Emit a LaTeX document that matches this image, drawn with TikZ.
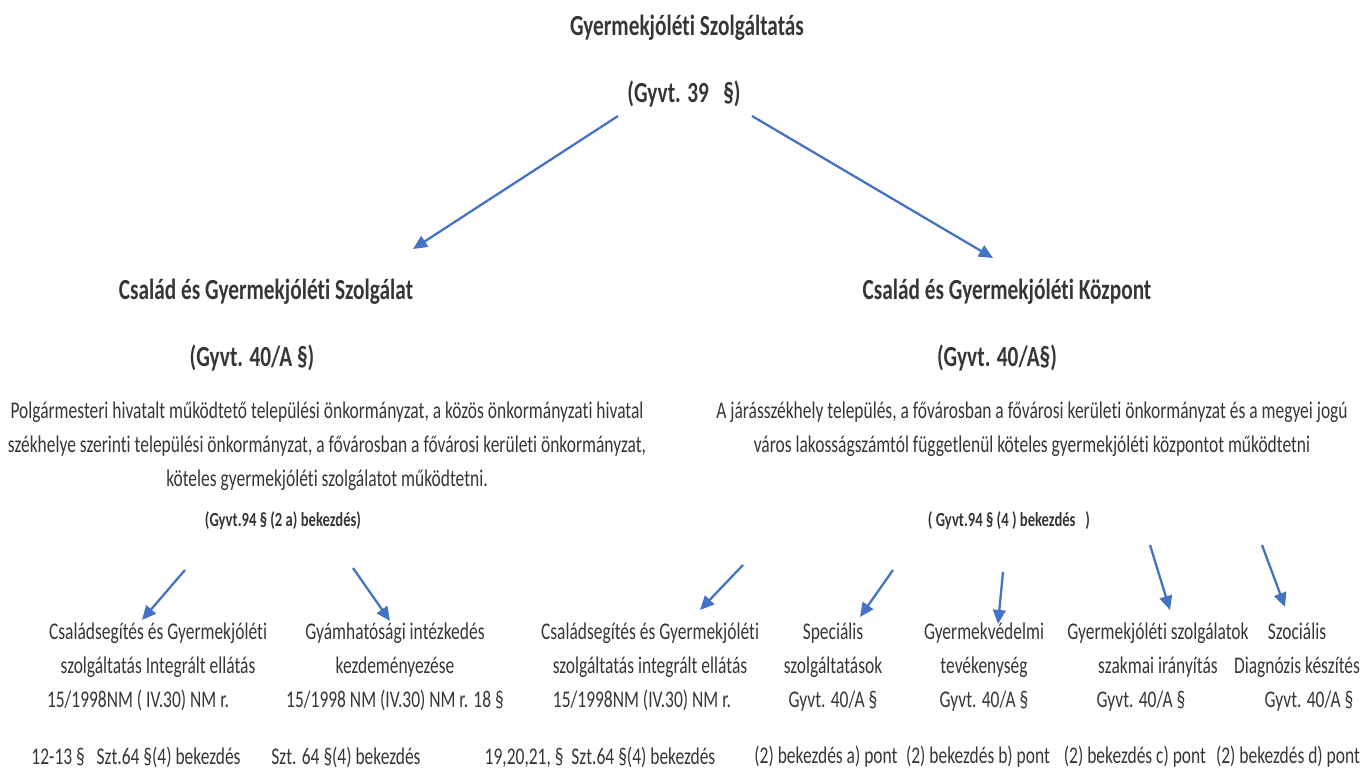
\documentclass[tikz,border=0pt]{standalone}
\usepackage{fontspec}
\setmainfont[FakeStretch=0.73,Ligatures=NoCommon]{Carlito}
\usetikzlibrary{arrows.meta}
\definecolor{txtgray}{HTML}{363636}
\definecolor{arrblue}{HTML}{4472C4}
\newcommand{\pad}[1]{\hbox to #1{}}

\begin{document}
\begin{tikzpicture}[x=0.01cm,y=-0.01cm,
	title/.style={text=txtgray,inner sep=0pt,font=\fontsize{8.3}{10}\selectfont\bfseries},
	body/.style={text=txtgray,inner sep=0pt,align=center,font=\fontsize{6.8}{9.68}\selectfont},
	jog/.style={text=txtgray,inner sep=0pt,font=\fontsize{5.7}{7}\selectfont\bfseries},
	arr/.style={draw=arrblue,line width=0.65pt,-{Triangle[length=4pt,width=3.6pt]}}]
	\useasboundingbox (0,0) rectangle (1365,779);
	% top
	\node[title] (root) at (687,28) {Gyermekjóléti Szolgáltatás};
	\node[title] (rootref) at (684,94) {(Gyvt. 39\ \ \ §)};
	% second level
	\node[title] (szolg) at (266,292) {Család és Gyermekjóléti Szolgálat};
	\node[title] (szolgref) at (252,358) {(Gyvt. 40/A §)};
	\node[title] (kozp) at (1007,292) {Család és Gyermekjóléti Központ};
	\node[title] (kozpref) at (997,358) {(Gyvt. 40/A§)};
	\node[body] (szolgtxt) at (327,446) {Polgármesteri hivatalt működtető települési önkormányzat, a közös önkormányzati hivatal\\székhelye szerinti települési önkormányzat, a fővárosban a fővárosi kerületi önkormányzat,\\köteles gyermekjóléti szolgálatot működtetni.};
	\node[body] (kozptxt) at (1032,429) {A járásszékhely település, a fővárosban a fővárosi kerületi önkormányzat és a megyei jogú\\város lakosságszámtól függetlenül köteles gyermekjóléti központot működtetni};
	\node[jog] (szolgjog) at (283,521) {(Gyvt.94 § (2 a) bekezdés)};
	\node[jog] (kozpjog) at (1009,521) {(\ Gyvt.94 § (4 ) bekezdés\ \ \ )};
	% third level
	\node[body] (b1) at (158,667) {Családsegítés és Gyermekjóléti\\szolgáltatás Integrált ellátás\\15/1998NM ( IV.30) NM r.\pad{0.4cm}};
	\node[body] (b2) at (395,667) {Gyámhatósági intézkedés\\kezdeményezése\\15/1998 NM (IV.30) NM r. 18 §};
	\node[body] (b3) at (650,667) {Családsegítés és Gyermekjóléti\\szolgáltatás integrált ellátás\\15/1998NM (IV.30) NM r.\pad{0.16cm}};
	\node[body] (b4) at (833,667) {Speciális\\szolgáltatások\\Gyvt. 40/A §};
	\node[body] (b5) at (984,667) {Gyermekvédelmi\\tevékenység\\Gyvt. 40/A §};
	\node[body] (b6) at (1158,667) {Gyermekjóléti szolgálatok\\szakmai irányítás\\Gyvt. 40/A §\pad{0.34cm}};
	\node[body] (b7) at (1297,667) {Szociális\\Diagnózis készítés\\\pad{0.24cm}Gyvt. 40/A §};
	% paragraphs
	\node[body] (p1) at (136,757) {12-13 §\ \ \ Szt.64 §(4) bekezdés};
	\node[body] (p2) at (346,757) {Szt. 64 §(4) bekezdés};
	\node[body] (p3) at (600,757) {19,20,21, §\ \ Szt.64 §(4) bekezdés};
	\node[body] (p4) at (826,757) {(2) bekezdés a) pont};
	\node[body] (p5) at (978,757) {(2) bekezdés b) pont};
	\node[body] (p6) at (1135,757) {(2) bekezdés c) pont};
	\node[body] (p7) at (1288,757) {(2) bekezdés d) pont};
	% arrow ends
	\coordinate (a1s) at (618,116);
	\coordinate (a1e) at (413,249);
	\coordinate (a2s) at (752,116);
	\coordinate (a2e) at (993,258);
	\coordinate (l1s) at (185,570);
	\coordinate (l1e) at (142,620);
	\coordinate (l2s) at (353,568);
	\coordinate (l2e) at (390,621);
	\coordinate (r1s) at (743,565);
	\coordinate (r1e) at (700,610);
	\coordinate (r2s) at (893,570);
	\coordinate (r2e) at (860,617);
	\coordinate (r3s) at (1003,572);
	\coordinate (r3e) at (998,624);
	\coordinate (r4s) at (1150,545);
	\coordinate (r4e) at (1170,610);
	\coordinate (r5s) at (1262,545);
	\coordinate (r5e) at (1285,607);
	\draw[arr] (a1s) -- (a1e);
	\draw[arr] (a2s) -- (a2e);
	\draw[arr] (l1s) -- (l1e);
	\draw[arr] (l2s) -- (l2e);
	\draw[arr] (r1s) -- (r1e);
	\draw[arr] (r2s) -- (r2e);
	\draw[arr] (r3s) -- (r3e);
	\draw[arr] (r4s) -- (r4e);
	\draw[arr] (r5s) -- (r5e);
\end{tikzpicture}
\end{document}
